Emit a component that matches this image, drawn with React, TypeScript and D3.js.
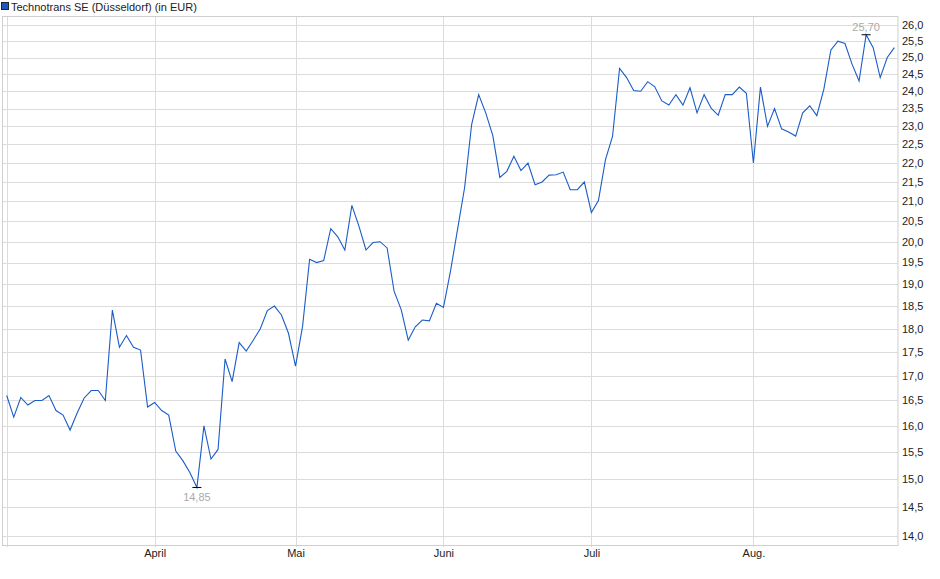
import React from "react";
import * as d3 from "d3";

// Daily closing prices (trading days, 3 Mar 2025 – 29 Aug 2025)
const prices: number[] = [
  16.6, 16.17, 16.56, 16.41, 16.5, 16.5, 16.6, 16.3, 16.21, 15.92,
  16.25, 16.55, 16.7, 16.7, 16.5, 18.41, 17.6, 17.85, 17.6, 17.54,
  16.37, 16.46, 16.3, 16.21, 15.52, 15.34, 15.12, 14.85, 16.0, 15.37,
  15.55, 17.35, 16.88, 17.7, 17.52, 17.75, 18.0, 18.4, 18.5, 18.3,
  17.9, 17.2, 18.05, 19.58, 19.5, 19.55, 20.32, 20.12, 19.8, 20.9,
  20.38, 19.8, 19.98, 20.0, 19.85, 18.83, 18.42, 17.75, 18.04, 18.19,
  18.17, 18.56, 18.47, 19.3, 20.3, 21.35, 23.05, 23.9, 23.38, 22.75,
  21.62, 21.78, 22.18, 21.8, 22.0, 21.43, 21.5, 21.68, 21.69, 21.76,
  21.3, 21.3, 21.5, 20.72, 21.02, 22.09, 22.72, 24.67, 24.4, 24.02,
  24.0, 24.28, 24.13, 23.72, 23.6, 23.9, 23.6, 24.1, 23.38, 23.9,
  23.51, 23.31, 23.9, 23.9, 24.12, 23.94, 22.0, 24.12, 23.0, 23.5,
  22.93, 22.84, 22.73, 23.38, 23.58, 23.3, 24.06, 25.23, 25.5, 25.43,
  24.8, 24.3, 25.7, 25.3, 24.4, 25.0, 25.3,
];

// Month boundaries (index of first trading day of each month)
const monthLabels: string[] = ["", "April", "Mai", "Juni", "Juli", "Aug."];
const monthStartIndex: number[] = [0, 21, 41, 62, 83, 106];

// Y axis tick values
const yTicks: number[] = [
  14.0, 14.5, 15.0, 15.5, 16.0, 16.5, 17.0, 17.5, 18.0, 18.5, 19.0, 19.5,
  20.0, 20.5, 21.0, 21.5, 22.0, 22.5, 23.0, 23.5, 24.0, 24.5, 25.0, 25.5, 26.0,
];

const title = "Technotrans SE (Düsseldorf) (in EUR)";
const yDomain: [number, number] = [13.85, 26.29];

const W = 940;
const H = 579;
const plot = { left: 3, right: 898, top: 16, bottom: 545 };
const FONT = "Arial, 'Liberation Sans', sans-serif";
const fmt = (v: number, d: number) => v.toFixed(d).replace(".", ",");

export default function App() {
  const x = d3
    .scaleLinear()
    .domain([0, prices.length - 1])
    .range([6.7, 894.3]);
  const y = d3.scaleLog().domain(yDomain).range([plot.bottom, plot.top]);

  const line = d3
    .line<number>()
    .x((_, i) => x(i))
    .y((d) => y(d));

  const maxV = d3.max(prices) as number;
  const minV = d3.min(prices) as number;
  const maxI = prices.indexOf(maxV);
  const minI = prices.indexOf(minV);

  return (
    <svg
      width={W}
      height={H}
      style={{ position: "absolute", left: 0, top: 0, background: "#fff" }}
      fontFamily={FONT}
    >
      {/* title / legend */}
      <rect x={1.5} y={2.5} width={7} height={7} fill="#1a56c0" stroke="#222" strokeWidth={1} />
      <text x={11} y={10.5} fontSize={11} fill="#222">
        {title}
      </text>

      {/* horizontal gridlines */}
      {yTicks.map((t) => (
        <line
          key={"h" + t}
          x1={plot.left}
          x2={plot.right}
          y1={Math.round(y(t)) + 0.5}
          y2={Math.round(y(t)) + 0.5}
          stroke="#dcdcdc"
          strokeWidth={1}
        />
      ))}
      {/* vertical gridlines */}
      {monthStartIndex.map((mi) => (
        <line
          key={"v" + mi}
          x1={Math.round(x(mi)) + 0.5}
          x2={Math.round(x(mi)) + 0.5}
          y1={plot.top}
          y2={plot.bottom + 2}
          stroke="#dcdcdc"
          strokeWidth={1}
        />
      ))}

      {/* frame */}
      <rect
        x={plot.left - 0.5}
        y={plot.top + 0.5}
        width={plot.right - plot.left + 0.5}
        height={plot.bottom - plot.top}
        fill="none"
        stroke="#cfcfcf"
        strokeWidth={1}
      />

      {/* y labels */}
      {yTicks.map((t) => (
        <text
          key={"yl" + t}
          x={plot.right + 4}
          y={y(t)}
          dy="0.35em"
          fontSize={11}
          fill="#222"
        >
          {fmt(t, 1)}
        </text>
      ))}

      {/* month labels */}
      {monthLabels.map((m, k) =>
        m ? (
          <text
            key={"ml" + k}
            x={x(monthStartIndex[k]) + 0.5}
            y={557}
            textAnchor="middle"
            fontSize={11}
            fill="#222"
          >
            {m}
          </text>
        ) : null
      )}

      {/* price line */}
      <path d={line(prices) || ""} fill="none" stroke="#1a5cc8" strokeWidth={1.1} strokeLinejoin="miter" />

      {/* max marker */}
      <line x1={x(maxI) - 4.5} x2={x(maxI) + 4.5} y1={y(maxV)} y2={y(maxV)} stroke="#000" strokeWidth={1} />
      <text x={x(maxI)} y={y(maxV) - 4} textAnchor="middle" fontSize={11} fill="#aaa">
        {fmt(maxV, 2)}
      </text>
      {/* min marker */}
      <line x1={x(minI) - 4.5} x2={x(minI) + 4.5} y1={y(minV)} y2={y(minV)} stroke="#000" strokeWidth={1} />
      <text x={x(minI)} y={y(minV) + 14} textAnchor="middle" fontSize={11} fill="#aaa">
        {fmt(minV, 2)}
      </text>
    </svg>
  );
}
